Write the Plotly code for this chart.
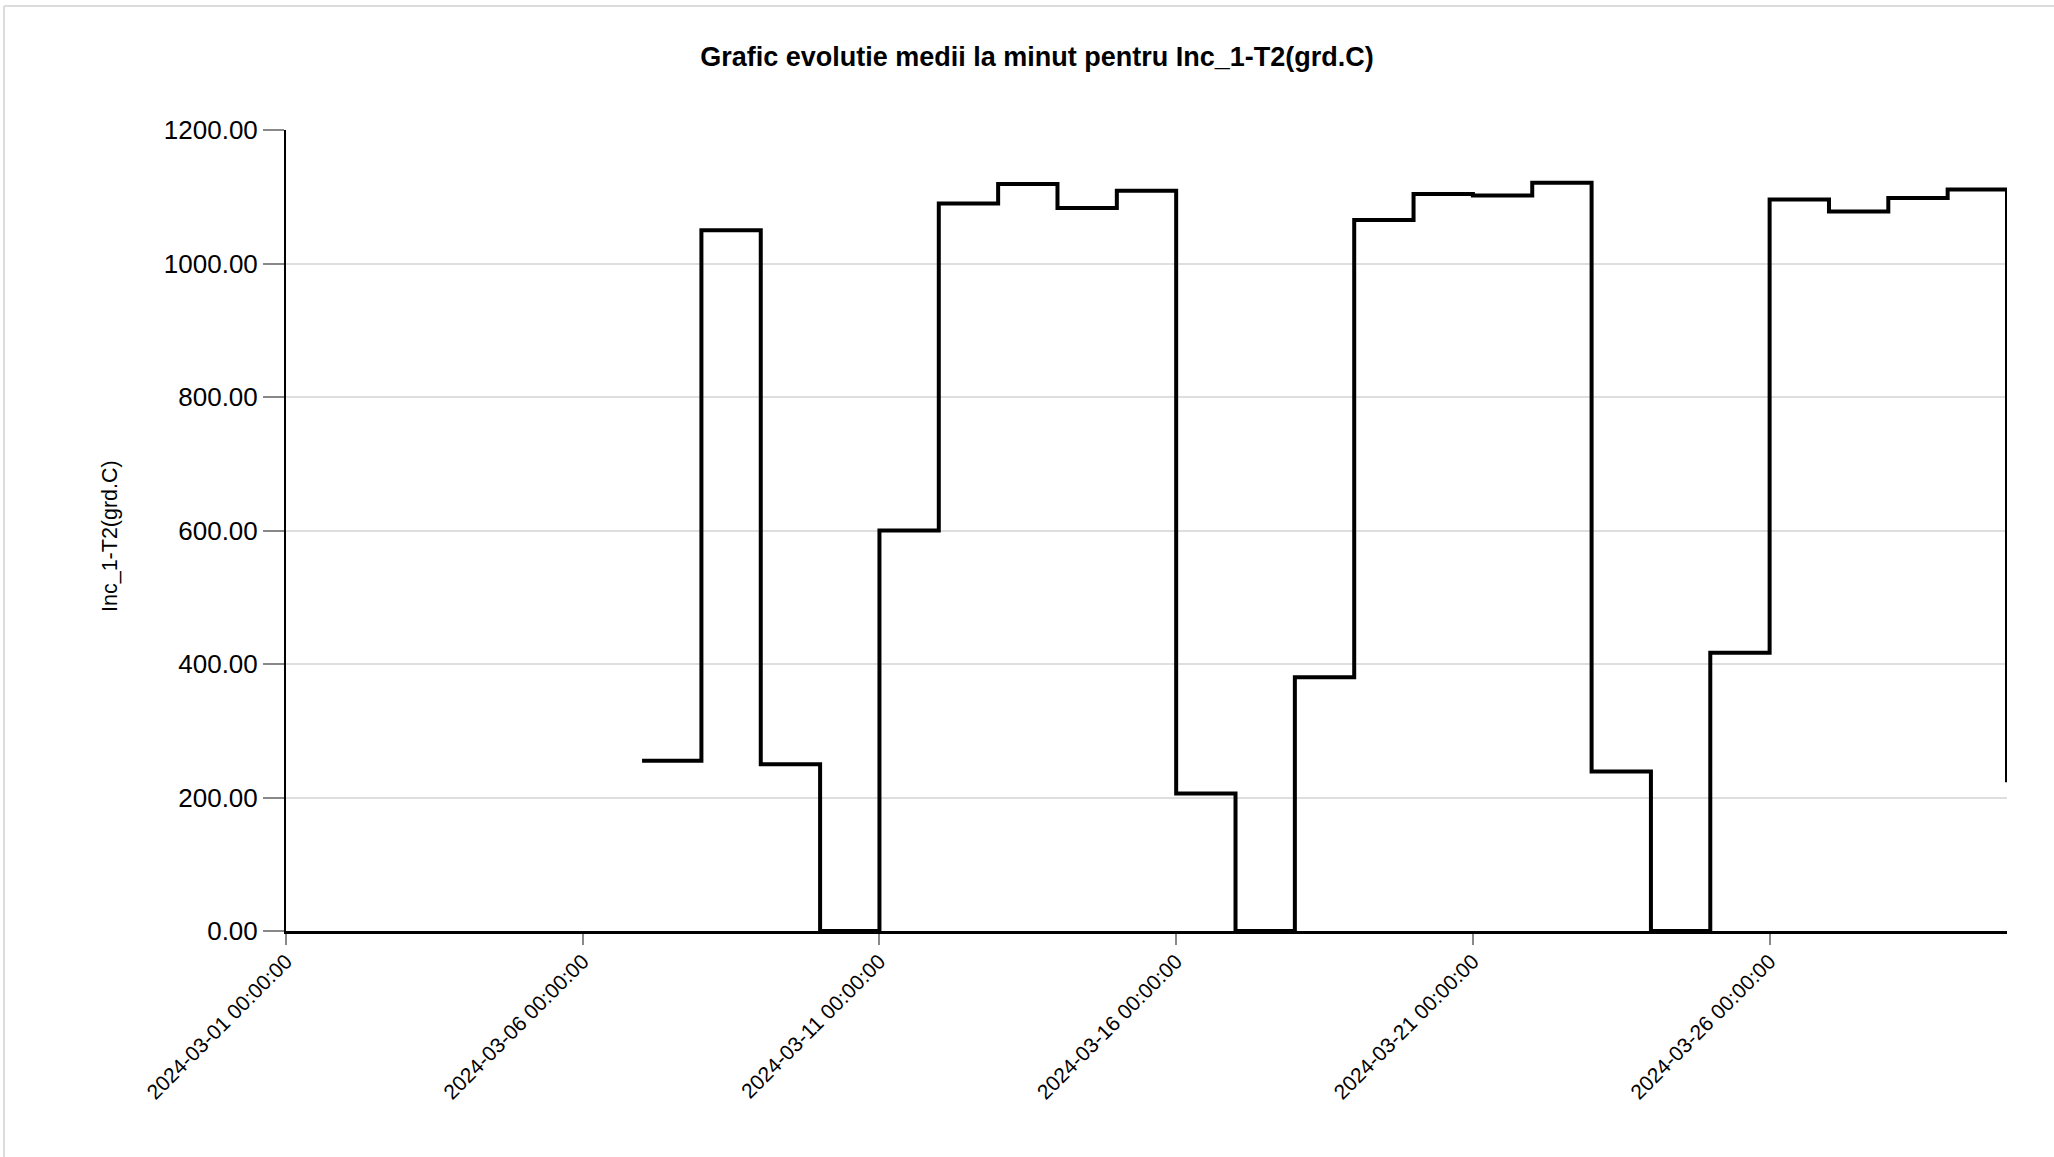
import plotly.graph_objects as go

# Data: daily minute-average values (step series)
dates = [
    "2024-03-07", "2024-03-08", "2024-03-09", "2024-03-10", "2024-03-11",
    "2024-03-12", "2024-03-13", "2024-03-14", "2024-03-15", "2024-03-16",
    "2024-03-17", "2024-03-18", "2024-03-19", "2024-03-20", "2024-03-21",
    "2024-03-22", "2024-03-23", "2024-03-24", "2024-03-25", "2024-03-26",
    "2024-03-27", "2024-03-28", "2024-03-29", "2024-03-30",
]
values = [
    255, 1050, 250, 0, 600,
    1090, 1119, 1083, 1109, 206,
    0, 380, 1065, 1104, 1102,
    1121, 239, 0, 417, 1096,
    1078, 1098, 1111, 223,
]
x_range = ["2024-03-01", "2024-03-30"]
x_tickvals = ["2024-03-01", "2024-03-06", "2024-03-11", "2024-03-16", "2024-03-21", "2024-03-26"]
x_ticktext = [d + " 00:00:00" for d in x_tickvals]
y_tickvals = [0, 200, 400, 600, 800, 1000, 1200]

title_text = "Grafic evolutie medii la minut pentru Inc_1-T2(grd.C)"
y_title = "Inc_1-T2(grd.C)"

W, H = 2054, 1157
ml, mr, mt, mb = 286, 47, 130, 226
pw = W - ml - mr
ph = H - mt - mb

fig = go.Figure()
fig.add_trace(go.Scatter(
    x=dates, y=values, mode="lines",
    line=dict(shape="hv", color="black", width=4),
    hoverinfo="x+y", showlegend=False,
))

font_family = "Liberation Sans, Arial, sans-serif"

fig.update_layout(
    width=W, height=H,
    margin=dict(l=ml, r=mr, t=mt, b=mb, autoexpand=False),
    paper_bgcolor="white", plot_bgcolor="white",
    font=dict(family=font_family, color="black"),
    title=dict(
        text="<b>" + title_text + "</b>",
        font=dict(size=27, family=font_family, color="black"),
        xref="container", yref="container",
        x=1037 / W, xanchor="center",
        y=1 - 57 / H, yanchor="middle",
    ),
    xaxis=dict(
        type="date", range=x_range,
        tickvals=x_tickvals, ticktext=x_ticktext,
        tickangle=-45,
        tickfont=dict(size=21, family=font_family, color="black"),
        ticklabelstandoff=-4,
        ticks="outside", ticklen=11, tickwidth=1.5, tickcolor="#888",
        showgrid=False,
        showline=True, linecolor="black", linewidth=2.5,
        zeroline=False,
    ),
    yaxis=dict(
        range=[0, 1200],
        tickvals=y_tickvals, tickformat=".2f",
        tickfont=dict(size=26, family=font_family, color="black"),
        ticks="outside", ticklen=21, tickwidth=1.5, tickcolor="#888",
        showgrid=True, gridcolor="#dedede", gridwidth=2,
        showline=True, linecolor="black", linewidth=2,
        zeroline=False,
    ),
    annotations=[dict(
        text=y_title, textangle=-90,
        xref="paper", yref="paper",
        x=(110 - ml) / pw, y=(H - mb - 536) / ph,
        xanchor="center", yanchor="middle",
        showarrow=False,
        font=dict(size=21.5, family=font_family, color="black"),
    )],
    shapes=[
        dict(type="line", xref="paper", yref="paper",
             x0=(4 - ml) / pw, x1=(W - ml) / pw,
             y0=(H - mb - 6) / ph, y1=(H - mb - 6) / ph,
             line=dict(color="#dcdcdc", width=2)),
        dict(type="line", xref="paper", yref="paper",
             x0=(4 - ml) / pw, x1=(4 - ml) / pw,
             y0=(H - mb - 6) / ph, y1=(H - mb - H) / ph,
             line=dict(color="#dcdcdc", width=2)),
    ],
)

fig.write_html(
    "out.html",
    config={"displayModeBar": False},
    post_script="document.body.style.margin='0';document.body.style.overflow='hidden';",
)
